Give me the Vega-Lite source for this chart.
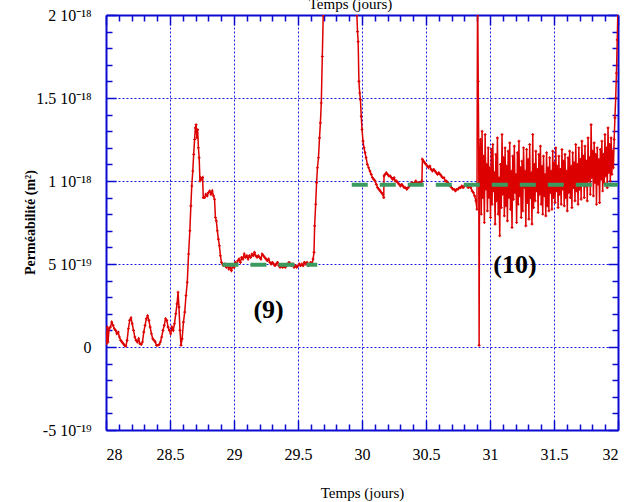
{
  "$schema": "https://vega.github.io/schema/vega-lite/v6.json",
  "autosize": {"type": "none"},
  "padding": {"left": 106, "top": 15, "right": 18, "bottom": 72},
  "width": 512,
  "height": 415,
  "background": "white",
  "config": {
    "view": {"stroke": null},
    "axis": {
      "labelFont": "Liberation Serif", "labelFontSize": 16, "labelColor": "#000000", "labelFontWeight": "normal",
      "titleFont": "Liberation Serif", "titleFontSize": 15, "titleFontWeight": "normal", "titleColor": "#000000",
      "domainColor": "#0a0ad2", "domainWidth": 2, "tickColor": "#0a0ad2", "tickWidth": 1.5,
      "gridColor": "#1a1ae6", "gridDash": [2, 2], "gridWidth": 1
    }
  },
  "datasets": {
    "perm": [
      {"t":28.000,"k":0.9},{"t":28.004,"k":0.2},{"t":28.010,"k":1.2},{"t":28.016,"k":0.3},{"t":28.024,"k":1.1},{"t":28.034,"k":1.2},{"t":28.045,"k":1.5},{"t":28.055,"k":1.3},{"t":28.065,"k":1.1},{"t":28.075,"k":1.0},{"t":28.085,"k":0.8},{"t":28.095,"k":0.9},{"t":28.105,"k":0.6},{"t":28.115,"k":0.4},{"t":28.125,"k":0.3},{"t":28.135,"k":0.2},{"t":28.145,"k":0.1},{"t":28.155,"k":0.05},{"t":28.165,"k":0.4},{"t":28.175,"k":1.1},{"t":28.185,"k":1.6},{"t":28.195,"k":1.75},{"t":28.205,"k":1.4},{"t":28.215,"k":1.0},{"t":28.225,"k":0.6},{"t":28.235,"k":0.4},{"t":28.245,"k":0.3},{"t":28.255,"k":0.5},{"t":28.265,"k":0.2},{"t":28.275,"k":0.15},{"t":28.285,"k":0.3},{"t":28.295,"k":0.9},{"t":28.305,"k":1.3},{"t":28.315,"k":1.7},{"t":28.325,"k":1.88},{"t":28.335,"k":1.6},{"t":28.345,"k":1.2},{"t":28.355,"k":0.8},{"t":28.365,"k":0.5},{"t":28.375,"k":0.4},{"t":28.385,"k":0.3},{"t":28.395,"k":0.1},{"t":28.405,"k":0.1},{"t":28.415,"k":0.15},{"t":28.425,"k":0.3},{"t":28.435,"k":0.6},{"t":28.445,"k":1.0},{"t":28.455,"k":1.3},{"t":28.465,"k":1.7},{"t":28.475,"k":1.6},{"t":28.485,"k":1.2},{"t":28.495,"k":1.0},{"t":28.505,"k":0.8},{"t":28.515,"k":1.2},{"t":28.525,"k":1.0},{"t":28.535,"k":1.4},{"t":28.545,"k":2.0},{"t":28.555,"k":2.6},{"t":28.563,"k":3.3},{"t":28.570,"k":2.4},{"t":28.578,"k":1.0},{"t":28.586,"k":0.1},{"t":28.595,"k":0.5},{"t":28.605,"k":1.5},{"t":28.615,"k":2.1},{"t":28.625,"k":3.1},{"t":28.635,"k":3.9},{"t":28.645,"k":5.6},{"t":28.655,"k":7.0},{"t":28.663,"k":8.5},{"t":28.670,"k":9.7},{"t":28.678,"k":10.6},{"t":28.685,"k":11.6},{"t":28.692,"k":12.5},{"t":28.698,"k":13.2},{"t":28.704,"k":13.4},{"t":28.710,"k":12.6},{"t":28.716,"k":13.1},{"t":28.722,"k":12.0},{"t":28.728,"k":11.4},{"t":28.734,"k":10.0},{"t":28.740,"k":10.2},{"t":28.748,"k":10.1},{"t":28.755,"k":10.2},{"t":28.760,"k":9.0},{"t":28.770,"k":9.0},{"t":28.780,"k":9.2},{"t":28.790,"k":9.1},{"t":28.800,"k":9.3},{"t":28.810,"k":9.4},{"t":28.820,"k":9.2},{"t":28.830,"k":9.4},{"t":28.840,"k":9.1},{"t":28.848,"k":8.9},{"t":28.855,"k":7.8},{"t":28.862,"k":7.6},{"t":28.870,"k":7.0},{"t":28.878,"k":6.5},{"t":28.886,"k":6.1},{"t":28.894,"k":5.5},{"t":28.902,"k":5.1},{"t":28.910,"k":5.0},{"t":28.920,"k":4.9},{"t":28.930,"k":5.0},{"t":28.940,"k":4.8},{"t":28.950,"k":4.9},{"t":28.960,"k":4.7},{"t":28.970,"k":4.8},{"t":28.980,"k":4.6},{"t":28.990,"k":4.9},{"t":29.000,"k":4.8},{"t":29.010,"k":5.1},{"t":29.020,"k":5.0},{"t":29.030,"k":5.2},{"t":29.040,"k":5.3},{"t":29.050,"k":5.1},{"t":29.060,"k":5.4},{"t":29.070,"k":5.3},{"t":29.080,"k":5.6},{"t":29.090,"k":5.4},{"t":29.100,"k":5.5},{"t":29.110,"k":5.3},{"t":29.120,"k":5.5},{"t":29.130,"k":5.4},{"t":29.140,"k":5.6},{"t":29.150,"k":5.5},{"t":29.160,"k":5.7},{"t":29.170,"k":5.5},{"t":29.180,"k":5.4},{"t":29.190,"k":5.5},{"t":29.200,"k":5.4},{"t":29.210,"k":5.3},{"t":29.220,"k":5.6},{"t":29.230,"k":5.5},{"t":29.240,"k":5.4},{"t":29.250,"k":5.3},{"t":29.260,"k":5.2},{"t":29.270,"k":5.3},{"t":29.280,"k":5.1},{"t":29.290,"k":5.0},{"t":29.300,"k":5.1},{"t":29.310,"k":5.0},{"t":29.320,"k":4.9},{"t":29.330,"k":5.0},{"t":29.340,"k":5.1},{"t":29.350,"k":4.9},{"t":29.360,"k":4.8},{"t":29.370,"k":4.9},{"t":29.380,"k":4.8},{"t":29.390,"k":4.9},{"t":29.400,"k":4.8},{"t":29.410,"k":4.9},{"t":29.420,"k":5.0},{"t":29.430,"k":5.1},{"t":29.440,"k":5.0},{"t":29.450,"k":4.9},{"t":29.460,"k":5.0},{"t":29.470,"k":4.8},{"t":29.480,"k":4.9},{"t":29.490,"k":4.8},{"t":29.500,"k":4.9},{"t":29.510,"k":5.0},{"t":29.520,"k":4.9},{"t":29.530,"k":5.0},{"t":29.540,"k":4.9},{"t":29.550,"k":5.1},{"t":29.560,"k":5.0},{"t":29.570,"k":5.1},{"t":29.580,"k":4.9},{"t":29.590,"k":5.0},{"t":29.600,"k":5.1},{"t":29.610,"k":5.0},{"t":29.618,"k":5.3},{"t":29.625,"k":5.7},{"t":29.630,"k":7.3},{"t":29.638,"k":8.6},{"t":29.645,"k":9.9},{"t":29.652,"k":10.8},{"t":29.660,"k":11.4},{"t":29.668,"k":12.6},{"t":29.675,"k":13.5},{"t":29.682,"k":14.7},{"t":29.690,"k":17.5},{"t":29.697,"k":20.0},{"t":29.705,"k":22.0},
      {"t":29.955,"k":22.0},{"t":29.960,"k":20.0},{"t":29.965,"k":19.0},{"t":29.970,"k":18.4},{"t":29.976,"k":16.0},{"t":29.982,"k":15.3},{"t":29.988,"k":14.9},{"t":29.994,"k":13.9},{"t":30.000,"k":13.1},{"t":30.008,"k":12.4},{"t":30.016,"k":12.0},{"t":30.024,"k":11.7},{"t":30.032,"k":11.4},{"t":30.042,"k":11.0},{"t":30.052,"k":10.8},{"t":30.062,"k":10.6},{"t":30.072,"k":10.4},{"t":30.082,"k":10.2},{"t":30.092,"k":10.1},{"t":30.102,"k":10.0},{"t":30.112,"k":9.8},{"t":30.122,"k":9.6},{"t":30.132,"k":9.5},{"t":30.142,"k":9.4},{"t":30.152,"k":9.3},{"t":30.162,"k":9.2},{"t":30.170,"k":9.0},{"t":30.172,"k":10.3},{"t":30.180,"k":10.4},{"t":30.190,"k":10.5},{"t":30.200,"k":10.4},{"t":30.210,"k":10.3},{"t":30.220,"k":10.3},{"t":30.230,"k":10.2},{"t":30.240,"k":10.1},{"t":30.250,"k":10.2},{"t":30.260,"k":10.0},{"t":30.270,"k":10.0},{"t":30.280,"k":9.9},{"t":30.290,"k":9.8},{"t":30.300,"k":9.7},{"t":30.310,"k":9.8},{"t":30.320,"k":9.7},{"t":30.330,"k":9.6},{"t":30.340,"k":9.6},{"t":30.350,"k":9.5},{"t":30.360,"k":9.6},{"t":30.370,"k":9.7},{"t":30.380,"k":9.8},{"t":30.390,"k":9.9},{"t":30.400,"k":9.8},{"t":30.410,"k":9.9},{"t":30.420,"k":10.0},{"t":30.430,"k":9.9},{"t":30.440,"k":9.9},{"t":30.450,"k":9.9},{"t":30.460,"k":9.9},{"t":30.468,"k":10.0},{"t":30.472,"k":11.3},{"t":30.480,"k":11.2},{"t":30.490,"k":11.1},{"t":30.500,"k":11.0},{"t":30.510,"k":10.9},{"t":30.520,"k":10.8},{"t":30.530,"k":10.9},{"t":30.540,"k":10.7},{"t":30.550,"k":10.6},{"t":30.560,"k":10.7},{"t":30.570,"k":10.6},{"t":30.580,"k":10.5},{"t":30.590,"k":10.4},{"t":30.600,"k":10.5},{"t":30.610,"k":10.4},{"t":30.620,"k":10.3},{"t":30.630,"k":10.2},{"t":30.640,"k":10.2},{"t":30.650,"k":10.0},{"t":30.660,"k":10.0},{"t":30.670,"k":9.9},{"t":30.680,"k":9.8},{"t":30.690,"k":9.7},{"t":30.700,"k":9.6},{"t":30.710,"k":9.5},{"t":30.720,"k":9.5},{"t":30.730,"k":9.4},{"t":30.740,"k":9.5},{"t":30.750,"k":9.5},{"t":30.760,"k":9.6},{"t":30.770,"k":9.6},{"t":30.780,"k":9.7},{"t":30.790,"k":9.6},{"t":30.800,"k":9.7},{"t":30.810,"k":9.8},{"t":30.820,"k":9.7},{"t":30.830,"k":9.6},{"t":30.840,"k":9.7},{"t":30.850,"k":9.6},{"t":30.860,"k":9.4},{"t":30.870,"k":9.3},{"t":30.880,"k":9.1},{"t":30.890,"k":8.8},{"t":30.898,"k":8.3},{"t":30.903,"k":22.0},{"t":30.908,"k":16.0},{"t":30.912,"k":12.0},{"t":30.915,"k":0.1},{"t":30.918,"k":9.0},
      {"t":30.925,"k":12.5},{"t":30.932,"k":8.0},{"t":30.938,"k":13.0},{"t":30.944,"k":9.0},{"t":30.950,"k":11.5},{"t":30.956,"k":7.5},{"t":30.962,"k":12.8},{"t":30.968,"k":9.5},{"t":30.974,"k":11.0},{"t":30.980,"k":8.2},{"t":30.986,"k":12.0},{"t":30.992,"k":9.0},{"t":30.998,"k":10.8},{"t":31.004,"k":7.8},{"t":31.010,"k":11.9},{"t":31.016,"k":8.6},{"t":31.022,"k":12.2},{"t":31.028,"k":9.4},{"t":31.034,"k":10.5},{"t":31.040,"k":7.4},{"t":31.046,"k":11.6},{"t":31.052,"k":8.8},{"t":31.058,"k":12.6},{"t":31.064,"k":8.0},{"t":31.070,"k":10.2},{"t":31.076,"k":6.7},{"t":31.082,"k":11.0},{"t":31.088,"k":8.4},{"t":31.094,"k":12.8},{"t":31.100,"k":9.2},{"t":31.106,"k":11.4},{"t":31.112,"k":7.9},{"t":31.118,"k":12.0},{"t":31.124,"k":8.5},{"t":31.130,"k":10.9},{"t":31.136,"k":7.6},{"t":31.142,"k":11.8},{"t":31.148,"k":9.0},{"t":31.154,"k":12.3},{"t":31.160,"k":8.3},{"t":31.166,"k":10.6},{"t":31.172,"k":7.2},{"t":31.178,"k":11.5},{"t":31.184,"k":8.9},{"t":31.190,"k":12.1},{"t":31.196,"k":9.3},{"t":31.202,"k":10.4},{"t":31.208,"k":7.5},{"t":31.214,"k":11.7},{"t":31.220,"k":8.6},{"t":31.226,"k":12.4},{"t":31.232,"k":9.1},{"t":31.238,"k":10.8},{"t":31.244,"k":7.8},{"t":31.250,"k":11.2},{"t":31.256,"k":8.2},{"t":31.262,"k":12.0},{"t":31.268,"k":9.6},{"t":31.274,"k":10.6},{"t":31.280,"k":7.3},{"t":31.286,"k":11.9},{"t":31.292,"k":8.7},{"t":31.298,"k":11.3},{"t":31.304,"k":7.7},{"t":31.310,"k":12.2},{"t":31.316,"k":9.0},{"t":31.322,"k":10.5},{"t":31.328,"k":7.4},{"t":31.334,"k":12.8},{"t":31.340,"k":8.4},{"t":31.346,"k":11.0},{"t":31.352,"k":8.8},{"t":31.358,"k":11.8},{"t":31.364,"k":9.4},{"t":31.370,"k":10.7},{"t":31.376,"k":8.1},{"t":31.382,"k":11.6},{"t":31.388,"k":9.2},{"t":31.394,"k":12.1},{"t":31.400,"k":8.6},{"t":31.406,"k":10.9},{"t":31.412,"k":8.0},{"t":31.418,"k":11.5},{"t":31.424,"k":9.1},{"t":31.430,"k":10.4},{"t":31.436,"k":7.9},{"t":31.442,"k":11.7},{"t":31.448,"k":8.5},{"t":31.454,"k":10.8},{"t":31.460,"k":8.2},{"t":31.466,"k":11.4},{"t":31.472,"k":9.3},{"t":31.478,"k":10.6},{"t":31.484,"k":8.3},{"t":31.490,"k":11.8},{"t":31.496,"k":9.0},{"t":31.502,"k":11.1},{"t":31.508,"k":8.7},{"t":31.514,"k":12.0},{"t":31.520,"k":9.4},{"t":31.526,"k":10.9},{"t":31.532,"k":8.4},{"t":31.538,"k":11.5},{"t":31.544,"k":9.2},{"t":31.550,"k":10.7},{"t":31.556,"k":8.6},{"t":31.562,"k":11.9},{"t":31.568,"k":9.5},{"t":31.574,"k":11.2},{"t":31.580,"k":8.5},{"t":31.586,"k":11.6},{"t":31.592,"k":9.0},{"t":31.598,"k":10.6},{"t":31.604,"k":8.2},{"t":31.610,"k":11.4},{"t":31.616,"k":9.3},{"t":31.622,"k":11.8},{"t":31.628,"k":9.0},{"t":31.634,"k":10.9},{"t":31.640,"k":8.4},{"t":31.646,"k":11.7},{"t":31.652,"k":9.6},{"t":31.658,"k":11.1},{"t":31.664,"k":8.8},{"t":31.670,"k":12.2},{"t":31.676,"k":9.4},{"t":31.682,"k":11.0},{"t":31.688,"k":8.6},{"t":31.694,"k":12.0},{"t":31.700,"k":9.5},{"t":31.706,"k":11.3},{"t":31.712,"k":8.9},{"t":31.718,"k":12.4},{"t":31.724,"k":9.8},{"t":31.730,"k":11.5},{"t":31.736,"k":9.0},{"t":31.742,"k":12.1},{"t":31.748,"k":9.7},{"t":31.754,"k":11.2},{"t":31.760,"k":8.8},{"t":31.766,"k":12.6},{"t":31.772,"k":10.0},{"t":31.778,"k":11.4},{"t":31.784,"k":9.2},{"t":31.790,"k":13.4},{"t":31.796,"k":10.2},{"t":31.802,"k":11.8},{"t":31.808,"k":9.1},{"t":31.814,"k":12.3},{"t":31.820,"k":9.9},{"t":31.826,"k":11.6},{"t":31.832,"k":8.6},{"t":31.838,"k":12.0},{"t":31.844,"k":9.8},{"t":31.850,"k":11.3},{"t":31.856,"k":8.7},{"t":31.862,"k":11.9},{"t":31.868,"k":10.1},{"t":31.874,"k":12.4},{"t":31.880,"k":9.4},{"t":31.886,"k":11.6},{"t":31.892,"k":9.9},{"t":31.898,"k":12.8},{"t":31.904,"k":10.3},{"t":31.910,"k":12.0},{"t":31.916,"k":9.6},{"t":31.922,"k":13.2},{"t":31.928,"k":10.5},{"t":31.934,"k":12.2},{"t":31.940,"k":10.0},{"t":31.946,"k":12.6},{"t":31.952,"k":10.4},{"t":31.958,"k":11.8},{"t":31.964,"k":10.8},{"t":31.970,"k":12.5},{"t":31.976,"k":13.8},{"t":31.982,"k":15.0},{"t":31.988,"k":16.5},{"t":31.994,"k":18.5},{"t":32.000,"k":20.5}
    ],
    "fits": [
      {"t":28.91,"t2":29.65,"k":4.95},
      {"t":29.92,"t2":32.0,"k":9.78}
    ],
    "labels": [
      {"t":29.27,"k":2.2,"label":"(9)"},
      {"t":31.195,"k":4.95,"label":"(10)"}
    ]
  },
  "resolve": {"axis": {"x": "independent", "y": "independent"}},
  "layer": [
    {
      "data": {"name": "perm"},
      "mark": {"type": "line", "color": "#dd0000", "strokeWidth": 1.5, "clip": true},
      "encoding": {
        "x": {"field": "t", "type": "quantitative", "scale": {"domain": [28, 32], "nice": false, "zero": false},
          "axis": {
            "orient": "bottom",
            "values": [28,28.1,28.2,28.3,28.4,28.5,28.6,28.7,28.8,28.9,29,29.1,29.2,29.3,29.4,29.5,29.6,29.7,29.8,29.9,30,30.1,30.2,30.3,30.4,30.5,30.6,30.7,30.8,30.9,31,31.1,31.2,31.3,31.4,31.5,31.6,31.7,31.8,31.9,32],
            "labelExpr": "abs(datum.value*2 - round(datum.value*2)) < 0.000001 ? format(datum.value, '~g') : ''",
            "tickSize": {"condition": {"test": "abs(datum.value*2 - round(datum.value*2)) < 0.000001", "value": -10}, "value": -6},
            "labelPadding": 26,
            "grid": true,
            "gridOpacity": {"condition": {"test": "abs(datum.value*2 - round(datum.value*2)) < 0.000001 && datum.value > 28.01 && datum.value < 31.99", "value": 1}, "value": 0},
            "title": "Temps (jours)", "titleFontWeight": "normal", "titleX": 256, "titleY": 62, "titleBaseline": "middle"
          }},
        "y": {"field": "k", "type": "quantitative", "scale": {"domain": [-5, 20], "nice": false, "zero": false},
          "axis": {
            "orient": "left",
            "values": [-5,-4,-3,-2,-1,0,1,2,3,4,5,6,7,8,9,10,11,12,13,14,15,16,17,18,19,20],
            "labelExpr": "datum.value == 0 ? '0' : datum.value == -5 ? '-5 10⁻¹⁹' : datum.value == 5 ? '5 10⁻¹⁹' : datum.value == 10 ? '1 10⁻¹⁸' : datum.value == 15 ? '1.5 10⁻¹⁸' : datum.value == 20 ? '2 10⁻¹⁸' : ''",
            "tickSize": {"condition": {"test": "datum.value % 5 == 0", "value": -10}, "value": -6},
            "labelPadding": 25,
            "grid": true,
            "gridOpacity": {"condition": {"test": "datum.value % 5 == 0 && datum.value > -5 && datum.value < 20", "value": 1}, "value": 0},
            "title": "Perméabilité (m²)", "titleFontWeight": "bold", "titleFontSize": 14,
            "titleX": -76, "titleY": 207, "titleAngle": -90, "titleAlign": "center", "titleBaseline": "middle"
          }}
      }
    },
    {
      "data": {"name": "perm"},
      "mark": {"type": "point", "shape": "cross", "size": 8, "filled": true, "color": "#dd0000", "opacity": 1, "clip": true},
      "encoding": {
        "x": {"field": "t", "type": "quantitative", "scale": {"domain": [28, 32], "nice": false, "zero": false},
          "axis": {
            "orient": "top",
            "values": [28,28.1,28.2,28.3,28.4,28.5,28.6,28.7,28.8,28.9,29,29.1,29.2,29.3,29.4,29.5,29.6,29.7,29.8,29.9,30,30.1,30.2,30.3,30.4,30.5,30.6,30.7,30.8,30.9,31,31.1,31.2,31.3,31.4,31.5,31.6,31.7,31.8,31.9,32],
            "labels": false,
            "tickSize": {"condition": {"test": "abs(datum.value*2 - round(datum.value*2)) < 0.000001", "value": -10}, "value": -6},
            "grid": false,
            "title": "Temps (jours)", "titleFontWeight": "normal", "titleX": 244, "titleY": -7, "titleBaseline": "alphabetic"
          }},
        "y": {"field": "k", "type": "quantitative", "scale": {"domain": [-5, 20], "nice": false, "zero": false},
          "axis": {
            "orient": "right",
            "values": [-5,-4,-3,-2,-1,0,1,2,3,4,5,6,7,8,9,10,11,12,13,14,15,16,17,18,19,20],
            "labels": false,
            "tickSize": {"condition": {"test": "datum.value % 5 == 0", "value": -10}, "value": -6},
            "grid": false,
            "title": null
          }}
      }
    },
    {
      "data": {"name": "fits"},
      "mark": {"type": "rule", "color": "#3a9a60", "strokeWidth": 4, "strokeDash": [16, 12]},
      "encoding": {
        "x": {"field": "t", "type": "quantitative", "axis": null},
        "x2": {"field": "t2"},
        "y": {"field": "k", "type": "quantitative", "axis": null}
      }
    },
    {
      "data": {"name": "labels"},
      "mark": {"type": "text", "font": "Liberation Serif", "fontSize": 26, "fontWeight": "bold", "color": "#000000", "align": "center", "baseline": "middle"},
      "encoding": {
        "x": {"field": "t", "type": "quantitative", "axis": null},
        "y": {"field": "k", "type": "quantitative", "axis": null},
        "text": {"field": "label"}
      }
    }
  ]
}
